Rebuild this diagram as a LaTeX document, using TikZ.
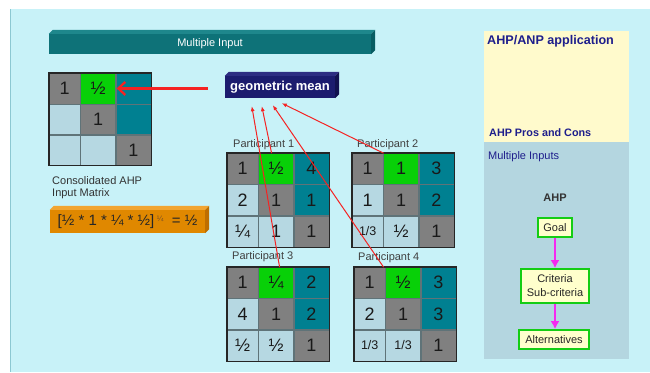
\documentclass[tikz,border=0pt]{standalone}
\usepackage{fontspec}
\setmainfont{Liberation Sans}
\usetikzlibrary{arrows.meta,matrix,calc}
\definecolor{bgc}{RGB}{200,242,248}
\definecolor{edgec}{RGB}{140,200,210}
\definecolor{cgray}{RGB}{128,128,128}
\definecolor{cgreen}{RGB}{8,208,8}
\definecolor{cteal}{RGB}{0,128,145}
\definecolor{clb}{RGB}{182,216,226}
\definecolor{celledge}{RGB}{95,115,120}
\definecolor{cellt}{RGB}{25,25,25}
\definecolor{bannerc}{RGB}{14,114,120}
\definecolor{bannertop}{RGB}{30,135,140}
\definecolor{bannerside}{RGB}{8,92,98}
\definecolor{navyc}{RGB}{28,28,110}
\definecolor{navytop}{RGB}{45,45,130}
\definecolor{navyside}{RGB}{18,18,80}
\definecolor{orangec}{RGB}{224,136,0}
\definecolor{orangetop}{RGB}{242,165,50}
\definecolor{orangeside}{RGB}{190,110,0}
\definecolor{ylw}{RGB}{255,250,204}
\definecolor{gbox}{RGB}{180,214,224}
\definecolor{titlec}{RGB}{30,30,140}
\definecolor{redc}{RGB}{245,35,35}
\definecolor{magc}{RGB}{245,40,240}
\definecolor{flowgreen}{RGB}{20,205,20}
\definecolor{flowfill}{RGB}{255,255,204}
\definecolor{supc}{RGB}{120,80,40}
\begin{document}
\begin{tikzpicture}[x=1pt,y=-1pt,
  cellbox/.style={draw=celledge, line width=0.4pt, minimum width=35pt, minimum height=31pt,
    inner sep=0pt, outer sep=0pt, text=cellt, anchor=center, font=\fontsize{18}{18}\selectfont},
  ahpmat/.style={matrix of nodes, nodes in empty cells, inner sep=0pt, outer sep=0pt,
    column sep=0pt, row sep=0pt, anchor=north west, nodes={cellbox},
    column 1/.style={nodes={minimum width=31pt}}},
  dg/.style={fill=cgray}, gr/.style={fill=cgreen}, tl/.style={fill=cteal}, lb/.style={fill=clb},
  smallt/.style={font=\fontsize{12.5}{12.5}\selectfont},
  matframe/.style={draw=black!85, line width=1.1pt},
  plabel/.style={anchor=west, inner sep=0pt, text=black!75, font=\fontsize{11}{11}\selectfont},
  thinred/.style={draw=redc, line width=1pt, -{Latex[length=5pt,width=4pt]}},
  bigred/.style={draw=redc, line width=2.3pt, -{Straight Barb[length=7pt,width=13pt]}},
  magarrow/.style={draw=magc, line width=2.4pt, -{Latex[length=8pt,width=9pt]}},
  flowbox/.style={draw=flowgreen, line width=1.8pt, fill=flowfill, inner sep=1pt, text=black!85,
    font=\fontsize{11}{14}\selectfont, align=center},
  ttl/.style={anchor=west, inner sep=0pt, text=titlec}
]
\useasboundingbox (0,0) rectangle (650,372);
\fill[white] (0,0) rectangle (650,372);
\fill[bgc] (10,9) rectangle (650,372);
\draw[edgec, line width=1pt] (10.5,9) -- (10.5,372);

% banner
\node[fill=bannerc, minimum width=322pt, minimum height=20pt, inner sep=0pt, text=white,
  font=\fontsize{11}{11}\selectfont] (banner) at (210,44) {Multiple Input};
\fill[bannertop] (banner.north west) -- ++(4,-4) -- ($(banner.north east)+(4,-4)$) -- (banner.north east) -- cycle;
\fill[bannerside] (banner.north east) -- ++(4,-4) -- ($(banner.south east)+(4,-4)$) -- (banner.south east) -- cycle;

% consolidated matrix
\matrix (c) [ahpmat, nodes={minimum height=30.5pt}] at (49,73) {
  |[dg]| 1 & |[gr]| ½ & |[tl]| \\
  |[lb]|   & |[dg]| 1 & |[tl]| \\
  |[lb]|   & |[lb]|   & |[dg]| 1 \\
};
\draw[matframe] (c.north west) rectangle (c.south east);
\node[anchor=west, inner sep=0pt, text=black!80, font=\fontsize{11}{11}\selectfont] (clab1) at (52,181) {Consolidated AHP};
\node[anchor=west, inner sep=0pt, text=black!80, font=\fontsize{11}{11}\selectfont] (clab2) at (52,194) {Input Matrix};

% orange formula box
\node[fill=orangec, minimum width=155pt, minimum height=23pt, inner sep=0pt, text=black!85,
  font=\fontsize{15}{15}\selectfont] (formula) at (127.5,221.5)
  {[½ * 1 * ¼ * ½]\,\raisebox{4pt}{\fontsize{8}{8}\selectfont\color{supc}¼}\ \ = ½\hspace{6pt}};
\fill[orangetop] (formula.north west) -- ++(4,-4) -- ($(formula.north east)+(4,-4)$) -- (formula.north east) -- cycle;
\fill[orangeside] (formula.north east) -- ++(4,-4) -- ($(formula.south east)+(4,-4)$) -- (formula.south east) -- cycle;

% geometric mean
\node[fill=navyc, minimum width=110pt, minimum height=22pt, inner sep=0pt, text=white,
  font=\bfseries\fontsize{13}{13}\selectfont] (gm) at (280,87) {geometric mean};
\fill[navytop] (gm.north west) -- ++(4,-4) -- ($(gm.north east)+(4,-4)$) -- (gm.north east) -- cycle;
\fill[navyside] (gm.north east) -- ++(4,-4) -- ($(gm.south east)+(4,-4)$) -- (gm.south east) -- cycle;

% participants
\node[plabel] (l1) at (233,145) {Participant 1};
\matrix (p1) [ahpmat] at (227,153) {
  |[dg]| 1 & |[gr]| ½ & |[tl]| 4 \\
  |[lb]| 2 & |[dg]| 1 & |[tl]| 1 \\
  |[lb]| ¼ & |[lb]| 1 & |[dg]| 1 \\
};
\draw[matframe] (p1.north west) rectangle (p1.south east);

\node[plabel] (l2) at (357,145) {Participant 2};
\matrix (p2) [ahpmat] at (352,153) {
  |[dg]| 1 & |[gr]| 1 & |[tl]| 3 \\
  |[lb]| 1 & |[dg]| 1 & |[tl]| 2 \\
  |[lb,smallt]| 1/3 & |[lb]| ½ & |[dg]| 1 \\
};
\draw[matframe] (p2.north west) rectangle (p2.south east);

\node[plabel] (l3) at (232,257) {Participant 3};
\matrix (p3) [ahpmat] at (227,267) {
  |[dg]| 1 & |[gr]| ¼ & |[tl]| 2 \\
  |[lb]| 4 & |[dg]| 1 & |[tl]| 2 \\
  |[lb]| ½ & |[lb]| ½ & |[dg]| 1 \\
};
\draw[matframe] (p3.north west) rectangle (p3.south east);

\node[plabel] (l4) at (358,258) {Participant 4};
\matrix (p4) [ahpmat] at (354,267) {
  |[dg]| 1 & |[gr]| ½ & |[tl]| 3 \\
  |[lb]| 2 & |[dg]| 1 & |[tl]| 3 \\
  |[lb,smallt]| 1/3 & |[lb,smallt]| 1/3 & |[dg]| 1 \\
};
\draw[matframe] (p4.north west) rectangle (p4.south east);

% red connectors
\draw[bigred] ([xshift=-17pt]gm.west |- c-1-2.east) -- ([xshift=1pt]c-1-2.east);
\draw[thinred] ([xshift=3.5pt]p3-1-2.north) -- ([xshift=27pt,yshift=-8pt]gm.south west);
\draw[thinred] ([xshift=-4.5pt]p1-1-2.north) -- ([xshift=37pt,yshift=-8pt]gm.south west);
\draw[thinred] ([xshift=-2pt]p4-1-2.north west) -- ([xshift=48pt,yshift=-7pt]gm.south west);
\draw[thinred] (p2-1-2.north west) -- ([xshift=57pt,yshift=-5pt]gm.south west);

% right panel
\node[fill=ylw, minimum width=145pt, minimum height=111pt, inner sep=0pt, anchor=north west] (app) at (484,31) {};
\node[fill=gbox, minimum width=145pt, minimum height=217pt, inner sep=0pt, anchor=north west] (mi) at (484,142) {};
\node[ttl, font=\bfseries\fontsize{12.6}{12.6}\selectfont] (t1) at (487,41) {AHP/ANP application};
\node[ttl, font=\bfseries\fontsize{10.8}{10.8}\selectfont] (t2) at (489,133) {AHP Pros and Cons};
\node[ttl, font=\fontsize{11}{11}\selectfont] (t3) at (488,157) {Multiple Inputs};
\node[inner sep=0pt, text=black!80, font=\bfseries\fontsize{11}{11}\selectfont] (ahp) at (555,198) {AHP};

\node[flowbox, minimum width=34pt, minimum height=19pt] (goal) at (555,227.5) {Goal};
\node[flowbox, minimum width=68pt, minimum height=34pt] (crit) at (555,286) {Criteria\\Sub-criteria};
\node[flowbox, minimum width=70pt, minimum height=19pt] (alt) at (554,339.5) {Alternatives};
\draw[magarrow] (goal.south) -- (goal.south |- crit.north);
\draw[magarrow] (crit.south) -- (crit.south |- alt.north);
\end{tikzpicture}
\end{document}
